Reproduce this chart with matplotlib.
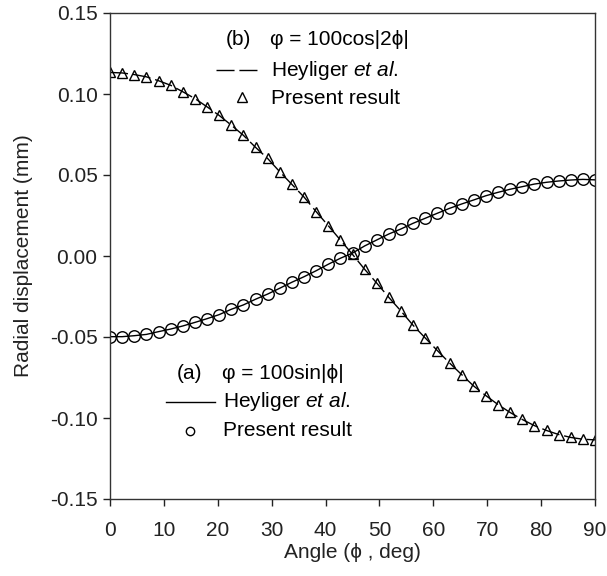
import matplotlib
matplotlib.use("Agg")
import matplotlib.pyplot as plt
import numpy as np

plt.rcParams['font.family'] = ['Liberation Sans', 'DejaVu Sans']
plt.rcParams['mathtext.fontset'] = 'custom'
plt.rcParams['mathtext.rm'] = 'Liberation Sans'
plt.rcParams['mathtext.it'] = 'Liberation Sans:italic'

# Angle (deg), 41 points, step 2.25
angle = [0, 2.25, 4.5, 6.75, 9, 11.25, 13.5, 15.75, 18, 20.25, 22.5, 24.75, 27,
         29.25, 31.5, 33.75, 36, 38.25, 40.5, 42.75, 45, 47.25, 49.5, 51.75, 54,
         56.25, 58.5, 60.75, 63, 65.25, 67.5, 69.75, 72, 74.25, 76.5, 78.75, 81,
         83.25, 85.5, 87.75, 90]

# (a) phi = 100 sin|phi|  -> circles / solid line
disp_a = [-0.0498, -0.0498, -0.0492, -0.0484, -0.0467, -0.0451, -0.0432, -0.0410,
          -0.0387, -0.0362, -0.0329, -0.0302, -0.0267, -0.0235, -0.0199, -0.0162,
          -0.0128, -0.0091, -0.0051, -0.0014, 0.0018, 0.0062, 0.0099, 0.0136,
          0.0167, 0.0202, 0.0233, 0.0264, 0.0294, 0.0321, 0.0346, 0.0372, 0.0393,
          0.0412, 0.0428, 0.0444, 0.0455, 0.0463, 0.0469, 0.0473, 0.0470]

# (b) phi = 100 cos|2phi| -> triangles / dashed line
disp_b = [0.1133, 0.1130, 0.1120, 0.1106, 0.1082, 0.1054, 0.1014, 0.0972, 0.0921,
          0.0868, 0.0808, 0.0745, 0.0671, 0.0602, 0.0520, 0.0442, 0.0364, 0.0274,
          0.0187, 0.0099, 0.0010, -0.0082, -0.0167, -0.0256, -0.0340, -0.0428,
          -0.0506, -0.0584, -0.0660, -0.0732, -0.0803, -0.0862, -0.0917, -0.0966,
          -0.1009, -0.1047, -0.1077, -0.1102, -0.1120, -0.1131, -0.1135]

xticks = [0, 10, 20, 30, 40, 50, 60, 70, 80, 90]
yticks = [-0.15, -0.10, -0.05, 0.00, 0.05, 0.10, 0.15]
ytick_labels = ['-0.15', '-0.10', '-0.05', '0.00', '0.05', '0.10', '0.15']

DASH = (0, (13, 3.5))

fig = plt.figure(figsize=(6.07, 5.76), dpi=100)
ax = fig.add_axes([110/607, 77/576, 485/607, 486/576])

ax.plot(angle, disp_a, color='black', lw=1.0, ls='-')
ax.plot(angle, disp_b, color='black', lw=1.0, ls=DASH)
ax.plot(angle, disp_a, ls='none', marker='o', ms=8.3, mfc='none', mec='black', mew=1.0)
ax.plot(angle, disp_b, ls='none', marker='^', ms=7.5, mfc='none', mec='black', mew=1.0)

ax.set_xlim(0, 90)
ax.set_ylim(-0.15, 0.15)
ax.set_xticks(xticks)
ax.set_yticks(yticks)
ax.set_yticklabels(ytick_labels)
ax.tick_params(direction='out', length=5, width=1, labelsize=15, pad=4, colors='#222222')
ax.tick_params(axis='x', pad=11)
for s in ax.spines.values():
    s.set_linewidth(1.0)
    s.set_color('#333333')

fs = 15
ax.set_xlabel('Angle (\u03d5 , deg)', fontsize=fs, labelpad=2, color='#222222')
ax.set_ylabel('Radial displacement (mm)', fontsize=fs, labelpad=12, color='#222222')

T = ax.transAxes
# Block (b)
ax.text(0.239, 0.946, '(b)', transform=T, fontsize=fs, va='center', ha='left')
ax.text(0.330, 0.946, '\u03c6 = 100cos|2\u03d5|', transform=T, fontsize=fs, va='center', ha='left')
ax.plot([0.2186, 0.3093], [0.8827, 0.8827], transform=T, color='black', lw=1.0, ls=DASH)
ax.text(0.3313, 0.8807, r'Heyliger $\mathit{et\ al.}$', transform=T, fontsize=fs,
        va='center', ha='left')
ax.plot([0.2715], [0.8278], transform=T, marker='^', ms=7, mfc='none', mec='black',
        mew=1.0, ls='none')
ax.text(0.3313, 0.825, 'Present result', transform=T, fontsize=fs, va='center', ha='left')

# Block (a)
ax.text(0.1375, 0.2586, '(a)', transform=T, fontsize=fs, va='center', ha='left')
ax.text(0.2303, 0.2586, '\u03c6 = 100sin|\u03d5|', transform=T, fontsize=fs, va='center', ha='left')
ax.plot([0.1155, 0.2165], [0.199, 0.199], transform=T, color='black', lw=1.0, ls='-')
ax.text(0.2324, 0.1996, r'Heyliger $\mathit{et\ al.}$', transform=T, fontsize=fs,
        va='center', ha='left')
ax.plot([0.165], [0.1405], transform=T, marker='o', ms=6, mfc='none', mec='black',
        mew=1.0, ls='none')
ax.text(0.2324, 0.14, 'Present result', transform=T, fontsize=fs, va='center', ha='left')

fig.savefig('out.png', dpi=100)
